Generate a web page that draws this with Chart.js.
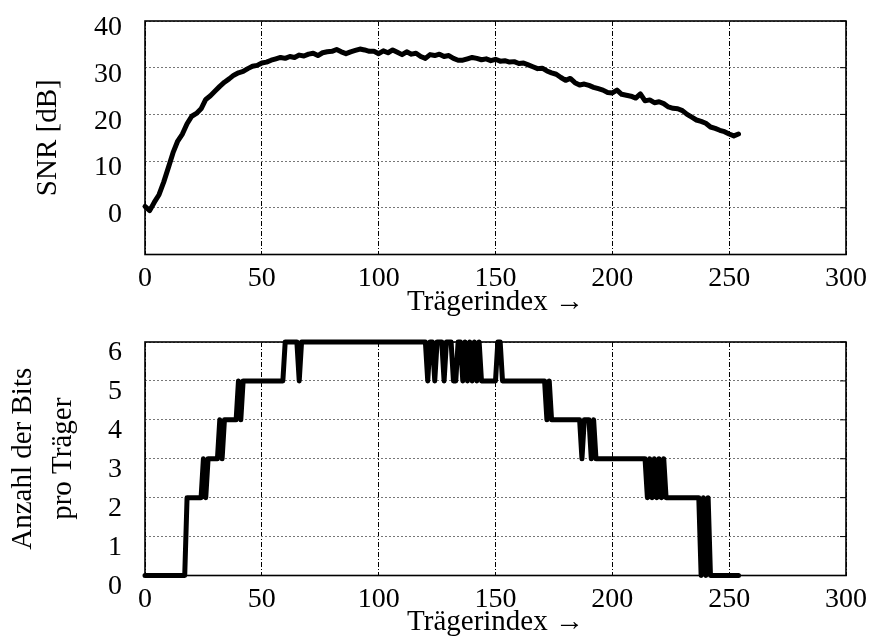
<!DOCTYPE html>
<html>
<head>
<meta charset="utf-8">
<script src="https://cdn.jsdelivr.net/npm/chart.js@4.4.0/dist/chart.umd.min.js"></script>
<style>
  body { margin: 0; background: #fff; }
  .box { position: absolute; left: 0; width: 882px; height: 320px; }
</style>
</head>
<body>
<div class="box" style="top:0"><canvas id="snrChart" width="882" height="320"></canvas></div>
<div class="box" style="top:320px"><canvas id="bitsChart" width="882" height="320"></canvas></div>
<script>
// SNR per carrier (read every 2nd carrier off the plot)
const snrCarriers = [
  0, 2, 4, 6, 8, 10, 12, 14, 16, 18, 20, 22, 24, 26, 28, 30, 32, 34, 36, 38,
  40, 42, 44, 46, 48, 50, 52, 54, 56, 58, 60, 62, 64, 66, 68, 70, 72, 74, 76, 78,
  80, 82, 84, 86, 88, 90, 92, 94, 96, 98, 100, 102, 104, 106, 108, 110, 112, 114, 116, 118,
  120, 122, 124, 126, 128, 130, 132, 134, 136, 138, 140, 142, 144, 146, 148, 150, 152, 154, 156, 158,
  160, 162, 164, 166, 168, 170, 172, 174, 176, 178, 180, 182, 184, 186, 188, 190, 192, 194, 196, 198,
  200, 202, 204, 206, 208, 210, 212, 214, 216, 218, 220, 222, 224, 226, 228, 230, 232, 234, 236, 238,
  240, 242, 244, 246, 248, 250, 252, 254
];
const snrValues = [
  0.3, -0.6, 1.2, 2.8, 5.5, 8.6, 11.8, 14.3, 15.8, 18.0, 19.6, 20.2, 21.2, 23.2, 24.0, 25.0, 26.0, 26.9, 27.6, 28.4,
  28.9, 29.2, 29.8, 30.3, 30.5, 31.0, 31.2, 31.6, 31.9, 32.2, 32.0, 32.4, 32.2, 32.7, 32.5, 32.9, 33.1, 32.6, 33.2, 33.4,
  33.5, 33.9, 33.4, 33.0, 33.4, 33.7, 34.0, 33.8, 33.5, 33.5, 33.0, 33.6, 33.2, 33.8, 33.3, 32.8, 33.4, 32.9, 33.1, 32.4,
  32.0, 32.8, 32.6, 32.9, 32.4, 32.6, 32.0, 31.6, 31.6, 31.9, 32.2, 32.0, 31.7, 31.9, 31.5, 31.8, 31.4, 31.5, 31.2, 31.3,
  30.9, 31.0, 30.6, 30.2, 29.8, 29.9, 29.3, 28.9, 28.6, 27.9, 27.3, 27.7, 26.8, 26.3, 26.5, 26.2, 25.8, 25.5, 25.2, 24.7,
  24.6, 25.2, 24.3, 24.1, 23.9, 23.5, 24.4, 22.9, 23.1, 22.5, 22.7, 22.3, 21.6, 21.3, 21.2, 20.8, 20.0, 19.4, 18.8, 18.5,
  18.1, 17.3, 17.0, 16.6, 16.3, 15.8, 15.4, 15.8
];

// bits per carrier, listed at the carriers where the level changes
const bitCarriers = [
  0, 17, 18, 24, 25, 26, 27, 31, 32, 33, 34, 39, 40, 41, 42, 59, 60, 65, 66, 67,
  120, 121, 122, 123, 124, 125, 127, 128, 129, 131, 132, 133, 134, 135, 136, 137, 138, 139, 140, 141,
  142, 143, 144, 150, 151, 152, 153, 171, 172, 173, 174, 186, 187, 188, 190, 191, 192, 193, 214, 215,
  216, 217, 218, 219, 220, 221, 222, 223, 237, 238, 239, 240, 241, 242, 254
];
const bitValues = [
  0, 0, 2, 2, 3, 2, 3, 3, 4, 3, 4, 4, 5, 4, 5, 5, 6, 6, 5, 6,
  6, 5, 6, 6, 5, 6, 6, 5, 6, 6, 5, 5, 6, 6, 5, 6, 5, 6, 5, 6,
  5, 6, 5, 5, 6, 6, 5, 5, 4, 5, 4, 4, 3, 4, 4, 3, 4, 3, 3, 2,
  3, 2, 3, 2, 3, 2, 3, 2, 2, 0, 2, 0, 2, 0, 0
];

const xTitle = 'Trägerindex →';
const serif = 'Liberation Serif';

// frame round the plot area plus the short ticks on its right edge
const framePlugin = {
  id: 'frame',
  beforeDatasetsDraw(chart) {
    const { ctx, chartArea: a } = chart;
    const y = chart.scales.y;
    ctx.save();
    ctx.strokeStyle = '#000';
    ctx.lineWidth = 1;
    y.ticks.forEach(t => {
      const py = y.getPixelForValue(t.value);
      ctx.beginPath();
      ctx.moveTo(a.right - 6, py);
      ctx.lineTo(a.right, py);
      ctx.stroke();
    });
    ctx.lineWidth = 1.6;
    ctx.strokeRect(a.left, a.top, a.right - a.left, a.bottom - a.top);
    ctx.restore();
  }
};

function makeChart(id, carriers, values, yOpts, topPad, lineWidth) {
  const points = carriers.map((c, i) => ({ x: c, y: values[i] }));
  return new Chart(document.getElementById(id), {
    type: 'line',
    data: {
      datasets: [{
        data: points,
        borderColor: '#000',
        borderWidth: lineWidth,
        pointRadius: 0,
        tension: 0,
        borderJoinStyle: 'round',
        borderCapStyle: 'round',
        clip: 8
      }]
    },
    options: {
      responsive: false,
      animation: false,
      parsing: false,
      layout: { padding: { top: topPad, right: 36, bottom: 0, left: 0 } },
      plugins: { legend: { display: false }, tooltip: { enabled: false } },
      scales: {
        x: {
          type: 'linear',
          min: 0,
          max: 300,
          ticks: { stepSize: 50, padding: 7, color: '#000', font: { family: serif, size: 28 } },
          grid: { color: '#000', lineWidth: 1, drawTicks: false },
          border: { display: false, dash: [5, 2, 1, 2] },
          title: {
            display: true,
            text: xTitle,
            color: '#000',
            font: { family: serif, size: 29, lineHeight: 1.2 },
            padding: { top: 0, bottom: 0 }
          },
          afterFit: s => {
            s.height = 320 - topPad - 233.5;
            s.paddingLeft = 0;
            s.paddingRight = 0;
          }
        },
        y: Object.assign({
          grid: { color: '#777', lineWidth: 1, drawTicks: false },
          border: { display: false, dash: [2, 2] },
          afterFit: s => {
            s.width = 145;
            s.paddingTop = 0;
            s.paddingBottom = 0;
          }
        }, yOpts)
      }
    },
    plugins: [framePlugin]
  });
}

makeChart('snrChart', snrCarriers, snrValues, {
  min: -10,
  max: 40,
  ticks: {
    stepSize: 10, autoSkip: false, padding: 23, labelOffset: 7, color: '#000',
    font: { family: serif, size: 28 },
    callback: v => (v < 0 ? '' : v)
  },
  title: {
    display: true,
    text: 'SNR [dB]',
    color: '#000',
    font: { family: serif, size: 29, lineHeight: 1.2 },
    padding: { top: 31, bottom: 0 }
  }
}, 21, 5);

makeChart('bitsChart', bitCarriers, bitValues, {
  min: 0,
  max: 6,
  ticks: {
    stepSize: 1, autoSkip: false, padding: 23, labelOffset: 11, color: '#000',
    font: { family: serif, size: 28 }
  },
  title: {
    display: true,
    text: ['Anzahl der Bits', 'pro Träger'],
    color: '#000',
    font: { family: serif, size: 29, lineHeight: 1.38 },
    padding: { top: 3, bottom: 0 }
  }
}, 22, 5);
</script>
</body>
</html>
